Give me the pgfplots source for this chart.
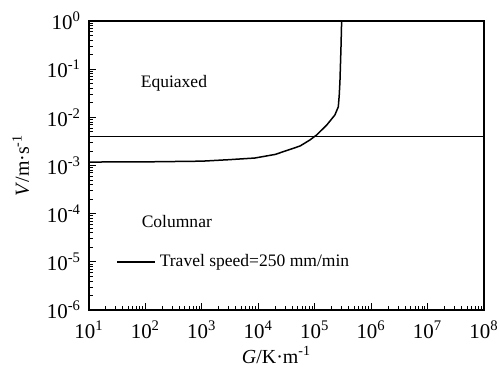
\documentclass[border=0pt]{standalone}
\usepackage{pgfplots}
\pgfplotsset{compat=1.18}
\usepackage{fontspec}
\setmainfont{Liberation Serif}
\usetikzlibrary{calc}
\begin{document}
\begin{tikzpicture}
\begin{axis}[
  name=ax,
  scale only axis,
  width=197.5bp, height=144.5bp,
  xmode=log, ymode=log,
  xmin=10, xmax=1e8, ymin=1e-6, ymax=1,
  axis line style={line width=0.8bp},
  tick align=inside,
  xtick pos=left, ytick pos=left,
  major tick length=3.5bp, minor tick length=2bp,
  tick style={line width=0.5bp, black},
  xtick={1e1,1e2,1e3,1e4,1e5,1e6,1e7,1e8},
  xticklabels={10\textsuperscript{1},10\textsuperscript{2},10\textsuperscript{3},10\textsuperscript{4},10\textsuperscript{5},10\textsuperscript{6},10\textsuperscript{7},10\textsuperscript{8}},
  ytick={1e-6,1e-5,1e-4,1e-3,1e-2,1e-1,1},
  yticklabels={10\textsuperscript{-6},10\textsuperscript{-5},10\textsuperscript{-4},10\textsuperscript{-3},10\textsuperscript{-2},10\textsuperscript{-1},10\textsuperscript{0}},
  ticklabel style={font=\fontsize{10.5}{12}\selectfont},
  xticklabel style={yshift=-2bp},
  yticklabel style={xshift=-0.5bp},
  xlabel={\textit{G}/K·m\textsuperscript{-1}},
  ylabel={\textit{V}/m·s\textsuperscript{-1}},
  label style={font=\fontsize{10}{12}\selectfont},
  xlabel style={yshift=3bp, xshift=-5bp},
  ylabel style={yshift=2bp},
  legend style={draw=none, fill=none, at={(axis cs:30,1e-5)}, anchor=west,
    font=\fontsize{8.8}{10}\selectfont, inner sep=0pt, row sep=0pt},
  legend cell align=left,
  legend image code/.code={\draw[#1] (0bp,0bp) -- (19bp,0bp);},
]
\addplot[black, line width=0.75bp] coordinates {
(10,1.18e-3) (100,1.19e-3) (1000,1.23e-3) (3000,1.32e-3) (8700,1.43e-3)
(2e4,1.70e-3) (2.75e4,1.93e-3) (5.5e4,2.54e-3) (8.2e4,3.38e-3)
(1.08e5,4.3e-3) (1.63e5,6.9e-3) (2.28e5,1.12e-2) (2.62e5,1.66e-2)
(2.72e5,2.9e-2) (2.8e5,5.5e-2) (2.92e5,0.275) (3.0e5,1)
};
\addlegendentry{Travel speed=250 mm/min}
\addplot[black, line width=0.75bp, forget plot] coordinates {(10,4e-3) (1e8,4e-3)};
\node[font=\fontsize{8.8}{10}\selectfont] at (axis cs:320,0.052) {Equiaxed};
\node[font=\fontsize{8.8}{10}\selectfont] at (axis cs:360,7e-5) {Columnar};
\end{axis}
\pgfresetboundingbox
\path ($(ax.south west)+(-44.5bp,-29.5bp)$) rectangle ($(ax.north east)+(8bp,10.5bp)$);
\end{tikzpicture}
\end{document}
